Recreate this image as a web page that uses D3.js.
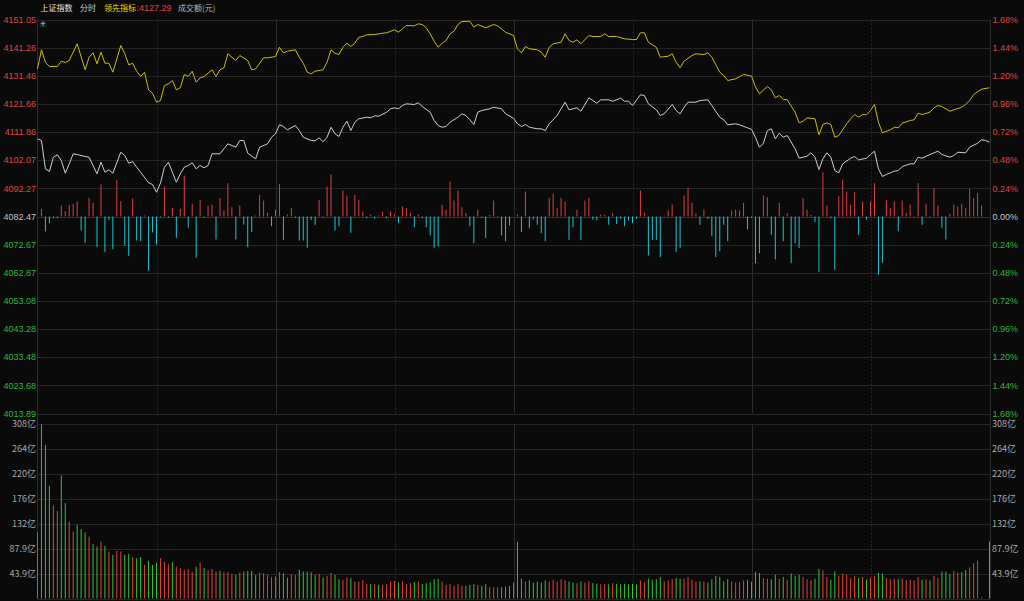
<!DOCTYPE html>
<html><head><meta charset="utf-8">
<script src="https://cdn.jsdelivr.net/npm/d3@7"></script>
<style>
html,body{margin:0;padding:0;background:#0a0a0a;}
svg{display:block;}
text{font-family:"Liberation Sans",Arial,sans-serif;}
.cjk{font-family:"Noto Sans CJK SC","Liberation Sans",sans-serif;}
</style></head><body>
<svg id="c" width="1024" height="601"></svg>
<script>
// ---------- data ----------
const prevClose = 4082.47;
const priceTickLabels = ["4151.05","4141.26","4131.46","4121.66","4111.86","4102.07","4092.27","4082.47","4072.67","4062.87","4053.08","4043.28","4033.48","4023.68","4013.89"];
const pctTickLabels = ["1.68%","1.44%","1.20%","0.96%","0.72%","0.48%","0.24%","0.00%","0.24%","0.48%","0.72%","0.96%","1.20%","1.44%","1.68%"];
const volTickValues = [307.7, 263.8, 219.8, 175.8, 131.9, 87.92, 43.96];
const volTickLabels = ["308亿","264亿","220亿","176亿","132亿","87.9亿","43.9亿"];
const timeGridMinutes = [30, 60, 90, 120, 150, 180, 210];

// 领先指标 (yellow) : minute index / value
const leadMin = [0,1,2,3,5,6,7,8,10,12,13,14,15,16,17,18,19,21,22,23,24,25,26,27,28,29,30,31,32,33,34,35,36,37,38,39,40,41,42,44,45,46,47,48,50,51,53,54,55,57,58,60,61,62,63,65,66,67,68,69,70,72,73,74,75,76,77,78,79,80,81,82,83,85,87,88,90,91,92,93,95,96,97,98,99,100,101,102,103,104,105,106,107,109,110,111,113,115,116,118,120,121,122,123,124,126,127,128,129,130,132,133,134,135,136,137,139,140,142,143,144,146,148,150,151,152,153,154,156,157,159,160,161,162,163,165,166,168,169,170,172,173,174,176,178,180,181,182,184,185,186,187,188,189,191,192,193,194,196,197,198,199,200,201,202,204,205,206,207,208,209,210,211,212,213,215,216,217,218,220,221,222,223,225,226,227,228,230,231,233,234,235,236,238,240];
const leadVal = [4133.88,4140.50,4136.18,4134.68,4134.68,4136.53,4136.08,4136.77,4142.59,4133.54,4137.92,4139.45,4135.62,4139.66,4135.83,4135.83,4132.70,4141.99,4139.11,4135.28,4135.83,4133.05,4131.20,4132.70,4126.57,4125.39,4122.26,4122.85,4128.07,4128.66,4129.81,4126.57,4127.27,4131.90,4131.20,4133.05,4129.22,4130.75,4131.20,4133.54,4131.20,4133.54,4134.23,4139.11,4136.77,4138.51,4136.77,4133.54,4133.88,4137.71,4137.71,4138.16,4141.40,4139.45,4140.01,4140.50,4137.92,4135.83,4132.70,4132.14,4133.05,4133.54,4136.18,4140.50,4139.31,4138.86,4141.40,4142.80,4141.65,4142.80,4144.88,4145.13,4145.72,4145.82,4146.28,4146.42,4147.46,4146.62,4147.81,4148.96,4148.85,4149.55,4149.30,4148.16,4146.07,4143.49,4141.40,4142.80,4143.74,4146.07,4146.97,4149.30,4150.35,4150.45,4148.37,4149.30,4148.16,4149.30,4148.85,4146.62,4145.47,4140.85,4139.45,4141.65,4140.85,4140.50,4139.66,4137.92,4141.40,4142.59,4143.14,4146.07,4143.74,4143.14,4143.98,4142.59,4145.48,4145.13,4145.13,4146.07,4145.13,4145.13,4144.33,4144.08,4144.08,4146.42,4146.42,4143.14,4141.40,4137.92,4138.27,4139.11,4136.18,4134.23,4136.53,4138.51,4139.11,4138.86,4139.45,4137.92,4132.70,4131.55,4129.81,4130.40,4131.90,4131.38,4127.55,4125.18,4127.72,4126.57,4123.79,4124.59,4123.20,4123.09,4118.77,4115.08,4115.64,4116.83,4116.48,4110.91,4114.49,4115.08,4114.49,4110.07,4110.66,4114.74,4116.48,4117.97,4117.03,4117.97,4117.87,4119.37,4121.46,4115.29,4111.60,4112.65,4113.55,4113.34,4114.95,4115.89,4116.13,4118.43,4117.97,4118.77,4120.31,4121.11,4120.76,4119.12,4119.61,4120.51,4121.46,4122.85,4124.94,4126.78,4127.29];

// 上证指数 price (white)
const priceMin = [0,1,2,3,4,5,6,7,8,9,10,12,13,15,16,17,18,19,21,22,23,24,25,26,28,29,30,31,32,33,34,35,36,37,38,39,40,41,42,43,44,46,47,48,50,51,52,53,55,56,58,59,60,61,62,63,65,66,67,69,70,71,72,73,74,75,76,77,78,79,80,81,83,84,85,86,88,89,90,91,92,93,95,96,97,99,100,101,102,103,104,106,107,108,109,110,111,112,114,115,117,118,120,121,122,123,124,126,127,128,129,131,133,134,135,136,137,139,140,141,142,144,145,147,148,149,150,152,153,154,156,157,158,160,161,162,163,164,166,167,169,170,172,173,174,176,177,179,180,181,182,183,184,185,186,187,188,189,191,192,194,195,196,197,198,199,200,201,202,203,205,206,207,209,210,211,212,213,214,216,217,218,220,221,222,223,224,225,227,228,230,231,232,234,235,237,238,239,240];
const priceVal = [4109.51,4108.92,4099.07,4098.13,4103.11,4103.95,4101.96,4097.54,4100.81,4104.29,4104.05,4103.35,4103.11,4097.33,4101.37,4097.89,4098.72,4097.54,4104.85,4103.70,4101.02,4101.61,4099.63,4097.89,4094.20,4093.61,4090.92,4094.06,4099.63,4101.37,4097.89,4094.41,4097.33,4099.63,4100.22,4101.16,4099.07,4100.22,4099.42,4100.22,4104.29,4104.29,4106.03,4107.77,4106.59,4108.92,4108.92,4104.50,4102.55,4106.59,4107.77,4110.07,4111.26,4114.39,4113.80,4112.65,4114.14,4112.40,4110.07,4108.92,4108.82,4109.86,4108.47,4110.07,4113.55,4111.26,4110.32,4113.55,4115.64,4112.40,4115.29,4116.48,4117.03,4116.83,4117.52,4117.38,4118.77,4119.96,4120.31,4119.96,4121.11,4121.70,4121.46,4122.05,4120.76,4118.77,4115.89,4114.14,4113.55,4113.80,4115.29,4117.03,4118.22,4117.63,4116.13,4114.49,4118.77,4119.37,4119.96,4120.51,4119.96,4118.22,4116.65,4114.74,4113.80,4114.49,4113.55,4113.00,4113.00,4112.40,4114.74,4117.63,4122.26,4119.61,4119.96,4120.31,4119.12,4123.79,4122.85,4121.91,4123.09,4123.09,4122.60,4123.65,4122.60,4122.60,4121.11,4124.83,4124.59,4121.70,4119.61,4117.63,4118.22,4121.46,4119.37,4118.22,4120.51,4122.26,4122.26,4122.85,4123.09,4121.11,4117.03,4116.13,4114.39,4114.74,4114.39,4113.34,4112.82,4109.97,4106.59,4107.98,4112.40,4113.00,4109.51,4111.46,4110.07,4110.66,4106.03,4102.76,4103.46,4104.64,4103.11,4098.83,4102.55,4104.64,4103.11,4098.48,4097.68,4100.81,4102.76,4103.35,4102.20,4102.76,4104.05,4105.20,4099.07,4096.39,4097.09,4098.24,4098.48,4099.87,4100.81,4100.81,4103.11,4102.76,4103.46,4104.05,4105.20,4104.05,4103.11,4103.70,4104.85,4104.64,4106.59,4107.98,4109.17,4108.92,4108.33];

// red/cyan strength bars, one per minute (0..240)
const forceVal = [0,7.7,-15,-6.7,-1.7,-1.7,11,5.3,11.7,12.7,15,-14,-26.3,18.7,13.7,-30.7,32,-35.7,-3.3,-32.7,36.7,15.3,-29.3,-39.3,18,-24,-24.7,1,-54,-16,-28,-1,30,-1.3,8.7,-21.3,7.7,41,-11.3,12.7,-41.3,16.7,-1.3,10.7,11.7,-23,18.7,6,33.3,9.3,-23,11,-8,-30.7,-15.7,1,21.7,16,3.7,-9.7,7,32.7,-23.3,2,8.3,-1.3,-24,-24,-31.3,-3.3,-8.3,16.7,-1,30,42,-14,-9.7,26,21,-16.3,22,16.7,5,-1.7,2,-2.3,1,4.7,-1.7,5,2.3,-6.3,10,8.3,3.3,-10.7,2,-1.7,-10.7,-19,-31.3,-30,11.7,6.7,35,16,26,9.3,3.3,-9.7,-26.7,6.7,-1.3,-21.7,1.7,16,-0.7,-19,-24.7,-9,0,2,-15.7,25,-11.7,-3,-8.3,-16.7,-24.7,18.7,23,8.7,18.7,15,-23.3,-10.7,6.7,-23.3,16,18.7,-3.3,-4,2,1.7,-8.3,3.3,-7.3,-2.3,-9.7,-4,-6.7,-2.3,26,3.7,-39,-23.3,-23.3,-40.7,0.7,6,12,-35.7,-31.3,21,28.7,13.7,3.3,-8.3,7,-2.3,-19.7,-40.7,-34.7,-8.3,-24.7,6,7,6,13.7,-13,-1.3,-46.7,-36.7,21,19.3,-18.3,-43,13.7,-24.7,3.3,-46.7,-26.7,-31.7,18.3,6.7,1.7,-5.7,-55.7,44.3,11,-1.7,-53.3,20.3,37,25,11.7,24.3,-18.3,15,-3.3,15,33.3,-58.3,-46.3,16.7,8.3,15,-14.7,16,3.7,12,0.7,33.3,-8.3,12.7,-0.7,28.3,11,-11.3,-23,2.7,12,10,12.7,8.3,27.7,18.3,23.3,11,0,0];

// turnover per minute (亿元), 0..240
const volVal = [117,307,271,198.7,164,154.6,216.9,168,135.7,118,129.9,122.3,116.3,109.2,95.8,91.6,100.4,92.8,82.7,76.9,
84,82.7,76.9,78.7,72.9,71.1,72.9,59.3,66.3,59.3,63.3,71.1,65.1,60.5,64,56.3,53.5,50.5,51.7,46.4,
56.3,63.3,53.5,50.5,52.2,47.5,48.7,46.4,46.4,43.4,41.6,45.7,47.5,48.7,48.7,41.6,45.7,44.6,41.6,37.6,
38.6,46.4,44.6,36.9,42.9,41.6,50.5,47.5,47.5,46.4,41.6,43.4,36.9,39.9,45.2,41.6,34,32.8,36.9,35.8,
29.8,29.8,32.8,25.8,25.2,25.8,24,24,25.2,29.8,31,28,29.8,25.2,27,28.8,29.8,25.2,27,28.8,
34,34.6,29.8,24,25.2,22.2,25.8,22.8,22.2,24,25.2,24,22.2,25.2,19.9,19.9,19.9,19.9,21,22.2,
28,100,35,30,32,28,30,28,32,30,33,30,34,32,30,28,27,30,28,30,
27,26,25,26,25,27,26,25,26,25,26,25,32,28,35,33,34,38,30,32,
34,36,35,35,38,33,30,30,30,28,34,40,38,30,34,30,28,29,32,33,
30,47,45,36,35,34,42,35,38,32,44,40,42,38,34,32,35,52,50,38,
33,48,40,44,42,36,40,36,38,33,36,40,45,44,36,34,35,34,35,32,
33,32,38,33,34,32,40,36,47.5,47.5,43.4,48.7,46.4,46.4,50.5,55.2,62.3,66.9,2,0,100.4];
// r = up minute (red), g = down minute (green)
const volDir = "rgggrrggrr"+"gggrggrgrg"+"rrggrggrgg"+"grrrgrrrrr"+"grgrrrgrrr"+"grggggrrrr"+"rrggrrgggg"+"grgrrggrrg"+"rrrrgrgrrr"+"rgrrrgrggg"+"ggrrrrrrgg"+"grggrrrggg"+"rggrgggggr"+"rrrrggrgrr"+"ggrrgrgggg"+"ggrrggggrr"+"rggrrrrgrg"+"gggggrrrrg"+"gggrrggrgr"+"gggrrrggrr"+"ggrrrrrgrg"+"rrggrrrgrr"+"rrrgrgrrgg"+"grrggrrrrr"+"g";

// ---------- drawing ----------
const svg = d3.select("#c");
svg.append("rect").attr("width",1024).attr("height",601).attr("fill","#0a0a0a");

const L = 37.5, R = 990.5;
const x = d3.scaleLinear().domain([0,240]).range([37.5, 989.5]);
const priceTicks = priceTickLabels.map(Number);
const y = d3.scaleLinear().domain([4013.89, 4151.05]).range([413.5, 19.5]);
const vy = d3.scaleLinear().domain([0, 307.7]).range([598.5, 424]);
const fy = d3.scaleLinear().domain([-60, 60]).range([y(prevClose)+60, y(prevClose)-60]);

const red = "#e0443e", green = "#30b83c", gray = "#c4c4c4";
const gridColor = "#252525";

const g = svg.append("g");
g.selectAll(".hg").data(priceTicks).enter().append("line")
  .attr("x1",L).attr("x2",R)
  .attr("y1",d=>Math.round(y(d))+0.5).attr("y2",d=>Math.round(y(d))+0.5)
  .attr("stroke",d=>d===prevClose?"#313131":gridColor).attr("stroke-width",1);
g.selectAll(".vg").data(volTickValues.concat([0])).enter().append("line")
  .attr("x1",L).attr("x2",R)
  .attr("y1",d=>Math.round(vy(d))+0.5).attr("y2",d=>Math.round(vy(d))+0.5)
  .attr("stroke",gridColor).attr("stroke-width",1);
[[19.5,413.5],[Math.round(vy(307.7))+0.5,598.5]].forEach(([a,b])=>{
  g.selectAll(null).data(timeGridMinutes).enter().append("line")
    .attr("x1",d=>Math.round(x(d))+0.5).attr("x2",d=>Math.round(x(d))+0.5)
    .attr("y1",a).attr("y2",b)
    .attr("stroke",d=>d%60===0?"#2c2c2c":"#2a2a2a")
    .attr("stroke-dasharray",d=>d%60===0?null:"2,2");
});
g.append("line").attr("x1",L).attr("x2",L).attr("y1",19.5).attr("y2",598.5).attr("stroke","#2c2c2c");
g.append("line").attr("x1",R).attr("x2",R).attr("y1",19.5).attr("y2",598.5).attr("stroke","#2c2c2c");

const lab = svg.append("g").attr("font-size","9px");
lab.selectAll(".pl").data(priceTickLabels).enter().append("text")
  .attr("x",36).attr("y",d=>y(+d)).attr("dy","0.36em").attr("text-anchor","end")
  .attr("fill",d=>+d>prevClose?red:(+d<prevClose?green:gray)).text(d=>d);
lab.selectAll(".pr").data(pctTickLabels).enter().append("text")
  .attr("x",992.5).attr("y",(d,i)=>y(priceTicks[i])).attr("dy","0.36em")
  .attr("fill",(d,i)=>i<7?red:(i>7?green:gray)).text(d=>d);
lab.selectAll(".vl").data(volTickLabels).enter().append("text")
  .attr("class","cjk").attr("x",36).attr("y",(d,i)=>vy(volTickValues[i])).attr("dy","0.36em")
  .attr("text-anchor","end").attr("fill","#a8a8a8").text(d=>d);
lab.selectAll(".vr").data(volTickLabels).enter().append("text")
  .attr("class","cjk").attr("x",992).attr("y",(d,i)=>vy(volTickValues[i])).attr("dy","0.36em")
  .attr("fill","#a8a8a8").text(d=>d);

svg.append("g").selectAll("line").data(forceVal.map((v,i)=>({i,v})).filter(d=>d.v!==0)).enter().append("line")
  .attr("x1",d=>x(d.i)).attr("x2",d=>x(d.i))
  .attr("y1",fy(0)).attr("y2",d=>fy(d.v))
  .attr("stroke",d=>d.v>0?"#dc4040":"#1fc4cf").attr("stroke-width",1);

svg.append("g").selectAll("line").data(volVal.map((v,i)=>({i,v,c:volDir[i]}))).enter().append("line")
  .attr("x1",d=>x(d.i)).attr("x2",d=>x(d.i))
  .attr("y1",vy(0)).attr("y2",d=>vy(d.v))
  .attr("stroke",d=>d.c==="r"?"#e0443e":"#34c23c").attr("stroke-width",1);

const line = d3.line().x(d=>x(d[0])).y(d=>y(d[1]));
svg.append("path").datum(priceMin.map((m,i)=>[m,priceVal[i]]))
  .attr("d",line).attr("fill","none").attr("stroke","#cfcfcf").attr("stroke-width",1).attr("stroke-linejoin","round");
svg.append("path").datum(leadMin.map((m,i)=>[m,leadVal[i]]))
  .attr("d",line).attr("fill","none").attr("stroke","#c9c000").attr("stroke-width",1).attr("stroke-linejoin","round");

const lg = svg.append("g").attr("font-size","8px");
lg.append("text").attr("class","cjk").attr("x",40.5).attr("y",10.5).attr("fill","#e6e6e6").text("上证指数");
lg.append("text").attr("class","cjk").attr("x",80).attr("y",10.5).attr("fill","#cfcfcf").text("分时");
lg.append("text").attr("class","cjk").attr("x",104).attr("y",10.5).attr("fill","#e6df00").text("领先指标");
lg.append("text").attr("x",136.5).attr("y",10.5).attr("font-size","9px").attr("fill",red).text(":"+leadVal[leadVal.length-1].toFixed(2));
lg.append("text").attr("class","cjk").attr("x",178).attr("y",10.5).attr("fill","#b4b4b4").text("成交额(元)");

svg.append("rect").attr("x",39.5).attr("y",20.5).attr("width",7).attr("height",7).attr("rx",1).attr("fill","#1e1e1e");
svg.append("text").attr("x",43).attr("y",27).attr("text-anchor","middle").attr("font-size","9px").attr("fill","#d0d0d0").text("+");
</script>
</body></html>
